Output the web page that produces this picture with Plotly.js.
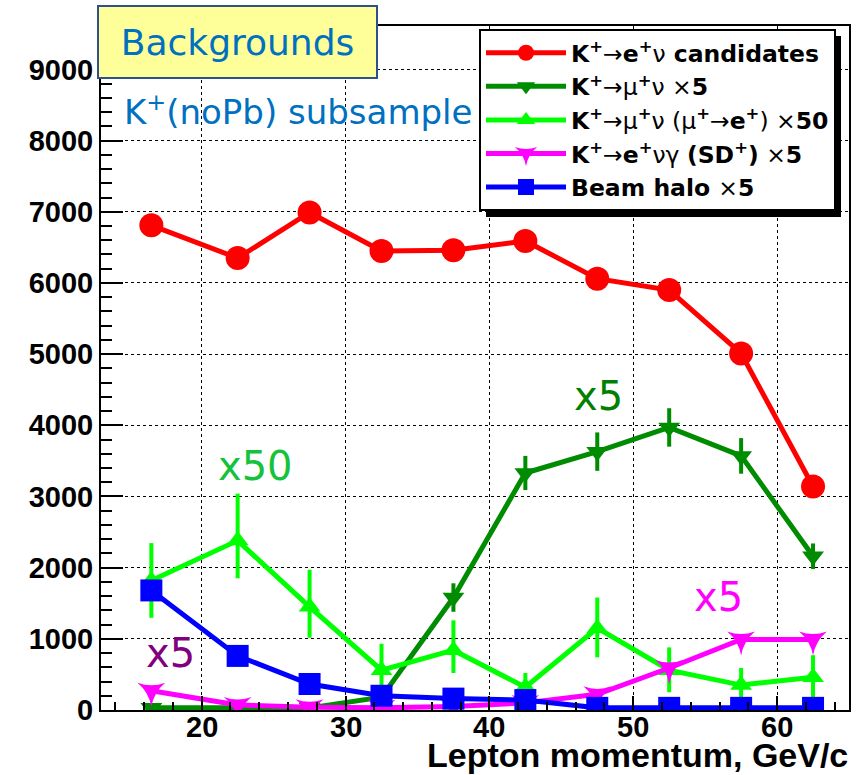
<!DOCTYPE html>
<html>
<head>
<meta charset="utf-8">
<script src="https://cdn.plot.ly/plotly-3.0.1.min.js"></script>
<style>html,body{margin:0;padding:0;background:#fff;}#chart{width:863px;height:775px;}</style>
</head>
<body>
<div id="chart"></div>
<script>
// Lepton momentum bin centres (GeV/c)
const momentum = [16.5, 22.5, 27.5, 32.5, 37.5, 42.5, 47.5, 52.5, 57.5, 62.5];

// K+ -> e+ nu candidates
const keCandidates = [6810, 6350, 6990, 6450, 6460, 6590, 6060, 5900, 5010, 3140];

// K+ -> mu+ nu  x5
const kmu5 = [30, 30, 30, 180, 1580, 3330, 3630, 3970, 3570, 2160];
const kmu5Err = [60, 60, 60, 120, 200, 240, 270, 270, 250, 180];

// K+ -> mu+ nu (mu+ -> e+) x50
const kmuDecay50 = [1820, 2380, 1450, 560, 840, 320, 1150, 560, 350, 460];
const kmuDecay50ErrPlus = [525, 660, 520, 370, 420, 200, 430, 320, 240, 310];
const kmuDecay50ErrMinus = [525, 530, 435, 370, 320, 200, 410, 310, 240, 280];

// K+ -> e+ nu gamma (SD+) x5
const keGammaSD5 = [270, 70, 40, 30, 50, 100, 220, 590, 990, 990];

// Beam halo x5
const beamHalo5 = [1680, 760, 365, 200, 160, 140, 30, 30, 30, 30];

const seriesNames = [
  '<b>K<sup>+</sup></b>→<b>e<sup>+</sup></b>ν<b> candidates</b>',
  '<b>K<sup>+</sup></b>→μ<b><sup>+</sup></b>ν ×<b>5</b>',
  '<b>K<sup>+</sup></b>→μ<b><sup>+</sup></b>ν (μ<b><sup>+</sup></b>→<b>e<sup>+</sup></b>) ×<b>50</b>',
  '<b>K<sup>+</sup></b>→<b>e<sup>+</sup></b>νγ <b>(SD<sup>+</sup>)</b> ×<b>5</b>',
  '<b>Beam halo </b>×<b>5</b>'
];

const xTickVals = [20, 30, 40, 50, 60];
const yTickVals = [0, 1000, 2000, 3000, 4000, 5000, 6000, 7000, 8000, 9000];

const W = 863, H = 775;
const M = {l: 101, r: 14, t: 26, b: 65};
const PW = W - M.l - M.r, PH = H - M.t - M.b;
const px = x => (x - M.l) / PW;
const py = y => (H - M.b - y) / PH;

const traces = [
  {x: momentum, y: keCandidates, name: seriesNames[0], mode: 'lines+markers', type: 'scatter',
   line: {color: '#ff0000', width: 5}, marker: {symbol: 'circle', size: 24, color: '#ff0000'}},
  {x: momentum, y: kmu5, name: seriesNames[1], mode: 'lines+markers', type: 'scatter',
   line: {color: '#008c00', width: 5}, marker: {symbol: 'triangle-down', size: 19, color: '#008c00'},
   error_y: {type: 'data', array: kmu5Err, visible: true, thickness: 4, width: 0, color: '#008c00'}},
  {x: momentum, y: kmuDecay50, name: seriesNames[2], mode: 'lines+markers', type: 'scatter',
   line: {color: '#00ff00', width: 5}, marker: {symbol: 'triangle-up', size: 19, color: '#00ff00'},
   error_y: {type: 'data', symmetric: false, array: kmuDecay50ErrPlus, arrayminus: kmuDecay50ErrMinus,
             visible: true, thickness: 4, width: 0, color: '#00ff00'}},
  {x: momentum, y: keGammaSD5, name: seriesNames[3], mode: 'lines+markers', type: 'scatter',
   line: {color: '#ff00ff', width: 5}, marker: {symbol: 'star-triangle-down', size: 20, color: '#ff00ff'}},
  {x: momentum, y: beamHalo5, name: seriesNames[4], mode: 'lines+markers', type: 'scatter',
   line: {color: '#0000ff', width: 5}, marker: {symbol: 'square', size: 22, color: '#0000ff'}}
];

const axisFont = {family: 'Liberation Sans, Arial, sans-serif', size: 29, color: '#000', weight: 'bold'};
const labelFont = 'DejaVu Sans, Verdana, sans-serif';

const xTickAnnotations = xTickVals.map(v => ({
  xref: 'x', yref: 'paper', x: v, y: 0, xanchor: 'center', yanchor: 'top', yshift: 0,
  text: '<b>' + v + '</b>', showarrow: false, borderpad: 0,
  font: {family: 'Liberation Sans, Arial, sans-serif', size: 29, color: '#000'}
}));

const layout = {
  width: W, height: H,
  margin: M,
  paper_bgcolor: '#ffffff', plot_bgcolor: '#ffffff',
  showlegend: true,
  hovermode: false,
  xaxis: {
    range: [13, 65], tickvals: xTickVals, showticklabels: false,
    ticks: 'inside', ticklen: 14, tickwidth: 2, tickcolor: '#000',
    showline: true, linewidth: 2, linecolor: '#000', mirror: true,
    showgrid: true, gridcolor: '#000', gridwidth: 1, griddash: 'dot',
    zeroline: false,
    minor: {dtick: 2, tick0: 0, ticks: 'inside', ticklen: 8, tickwidth: 2, tickcolor: '#000', showgrid: false}
  },
  yaxis: {
    range: [0, 9610], tickvals: yTickVals, ticktext: yTickVals.map(String),
    ticks: 'inside', ticklen: 22, tickwidth: 2, tickcolor: '#000',
    showline: true, linewidth: 2, linecolor: '#000', mirror: true,
    showgrid: true, gridcolor: '#000', gridwidth: 1, griddash: 'dot',
    zeroline: false, tickfont: axisFont,
    minor: {dtick: 200, tick0: 0, ticks: 'inside', ticklen: 11, tickwidth: 2, tickcolor: '#000', showgrid: false}
  },
  legend: {
    x: px(479), y: py(29), xanchor: 'left', yanchor: 'top',
    bgcolor: '#ffffff', bordercolor: '#000', borderwidth: 2,
    font: {family: 'DejaVu Sans, Verdana, sans-serif', size: 23.5, color: '#000'},
    itemwidth: 80, tracegroupgap: 0
  },
  shapes: [
    {type: 'rect', xref: 'paper', yref: 'paper', x0: px(835), x1: px(841), y0: py(217), y1: py(36),
     fillcolor: '#000', line: {width: 0}, layer: 'above'},
    {type: 'rect', xref: 'paper', yref: 'paper', x0: px(486), x1: px(841), y0: py(217), y1: py(211),
     fillcolor: '#000', line: {width: 0}, layer: 'above'}
  ],
  annotations: [
    {xref: 'paper', yref: 'paper', x: px(237.5), y: py(42), xanchor: 'center', yanchor: 'middle',
     text: 'Backgrounds', showarrow: false, font: {family: labelFont, size: 36, color: '#0070c0'},
     bgcolor: '#ffff99', bordercolor: '#2f4f8f', borderwidth: 2, borderpad: 0, width: 277, height: 70},
    {xref: 'paper', yref: 'paper', x: px(298), y: py(110), xanchor: 'center', yanchor: 'middle',
     text: 'K<sup>+</sup>(noPb) subsample', showarrow: false, font: {family: labelFont, size: 34, color: '#0070c0'}},
    {xref: 'paper', yref: 'paper', x: px(255), y: py(466), xanchor: 'center', yanchor: 'middle',
     text: 'x50', showarrow: false, font: {family: labelFont, size: 40, color: '#14c23c'}},
    {xref: 'paper', yref: 'paper', x: px(598), y: py(396), xanchor: 'center', yanchor: 'middle',
     text: 'x5', showarrow: false, font: {family: labelFont, size: 40, color: '#008000'}},
    {xref: 'paper', yref: 'paper', x: px(718), y: py(597), xanchor: 'center', yanchor: 'middle',
     text: 'x5', showarrow: false, font: {family: labelFont, size: 40, color: '#ff00ff'}},
    {xref: 'paper', yref: 'paper', x: px(170), y: py(653), xanchor: 'center', yanchor: 'middle',
     text: 'x5', showarrow: false, font: {family: labelFont, size: 40, color: '#800080'}},
    {xref: 'paper', yref: 'paper', x: 1, y: py(775), xanchor: 'right', yanchor: 'bottom',
     text: '<b>Lepton momentum, GeV/c</b>', showarrow: false, borderpad: 0,
     font: {family: 'Liberation Sans, Arial, sans-serif', size: 34, color: '#000'}}
  ].concat(xTickAnnotations)
};

Plotly.newPlot('chart', traces, layout, {staticPlot: true, displayModeBar: false});
</script>
</body>
</html>
